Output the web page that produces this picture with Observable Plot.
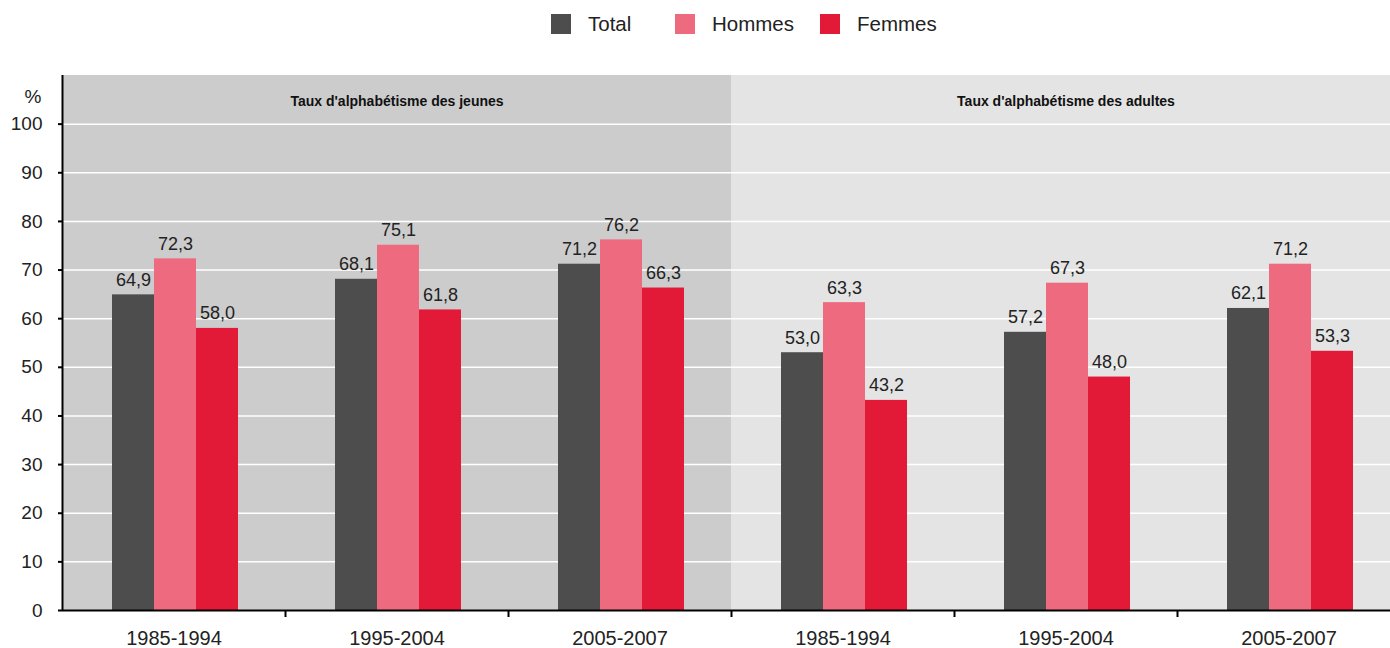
<!DOCTYPE html>
<html>
<head>
<meta charset="utf-8">
<script src="https://cdn.jsdelivr.net/npm/d3@7"></script>
<script src="https://cdn.jsdelivr.net/npm/@observablehq/plot@0.6"></script>
<style>
  html, body { margin: 0; padding: 0; background: #fff; width: 1390px; height: 648px; overflow: hidden; }
  body { font-family: "Liberation Sans", Arial, sans-serif; color: #222; }
  #legend { height: 50px; display: flex; align-items: center; padding-left: 551px; box-sizing: border-box; padding-bottom: 2px; }
  .item { display: flex; align-items: center; font-size: 20.5px; color: #222; }
  .sw { width: 20px; height: 20px; margin-right: 17px; }
  #chart { width: 1400px; }
  #chart svg { display: block; max-width: none !important; width: 1400px; }
</style>
</head>
<body>
<div id="legend"></div>
<div id="chart"></div>
<script>
// ---- data ----
const groups = ["jeunes", "adultes"];
const groupTitles = ["Taux d'alphabétisme des jeunes", "Taux d'alphabétisme des adultes"];
const periods = ["1985-1994", "1995-2004", "2005-2007"];
const seriesNames = ["Total", "Hommes", "Femmes"];
const totalValues  = [64.9, 68.1, 71.2, 53.0, 57.2, 62.1];
const hommesValues = [72.3, 75.1, 76.2, 63.3, 67.3, 71.2];
const femmesValues = [58.0, 61.8, 66.3, 43.2, 48.0, 53.3];
const yTicks = [0, 10, 20, 30, 40, 50, 60, 70, 80, 90, 100];
const yMax = 110;

// ---- styles ----
const seriesColors = ["#4d4d4d", "#ee6a7e", "#e31a37"];
const panelColors = ["#cccccc", "#e4e4e4"];

const keys = groups.flatMap(g => periods.map(p => g + "|" + p));
const rows = keys.map((k, i) => ({
  key: k, group: k.split("|")[0],
  Total: totalValues[i], Hommes: hommesValues[i], Femmes: femmesValues[i]
}));
const panels = keys.map(k => ({key: k, group: k.split("|")[0], y1: 0, y2: yMax}));
const titles = groups.map((g, i) => ({key: g + "|" + periods[1], title: groupTitles[i]}));

const fmt = v => d3.format(".1f")(v).replace(".", ",");

// legend
const legend = document.getElementById("legend");
const itemWidths = [124, 145, null];
seriesNames.forEach((s, i) => {
  const it = document.createElement("div");
  it.className = "item";
  if (itemWidths[i]) it.style.width = itemWidths[i] + "px";
  const sw = document.createElement("div");
  sw.className = "sw"; sw.style.background = seriesColors[i];
  const t = document.createElement("span"); t.textContent = s;
  it.appendChild(sw); it.appendChild(t);
  legend.appendChild(it);
});

const W = 1400, mL = 62, mR = 0;
const bw = (W - mL - mR) / keys.length;
const barW = 42, off = 50;

const barMarks = seriesNames.map((s, j) => Plot.barY(rows, {
  x: "key", y: s, fill: seriesColors[j],
  insetLeft: off + barW * j, insetRight: bw - off - barW * (j + 1)
}));
const labelMarks = seriesNames.map((s, j) => Plot.text(rows, {
  x: "key", y: s, text: d => fmt(d[s]),
  dx: off + barW * j + barW / 2 - bw / 2, dy: -9, lineAnchor: "bottom",
  fontSize: 18, fill: "#222"
}));

const chart = Plot.plot({
  width: W, height: 598,
  marginTop: 25, marginBottom: 38, marginLeft: mL, marginRight: mR,
  style: {fontFamily: "'Liberation Sans', Arial, sans-serif", color: "#222", background: "transparent", maxWidth: "none"},
  x: {domain: keys, padding: 0, axis: null},
  y: {domain: [0, yMax], axis: null},
  marks: [
    Plot.barY(panels, {x: "key", y1: "y1", y2: "y2", fill: d => panelColors[groups.indexOf(d.group)], shapeRendering: "crispEdges"}),
    Plot.gridY(yTicks.filter(t => t > 0), {stroke: "#ffffff", strokeOpacity: 1, strokeWidth: 1.5}),
    ...barMarks,
    ...labelMarks,
    Plot.text(titles, {x: "key", text: "title", frameAnchor: "top", dy: 21, fontWeight: "bold", fontSize: 14, fill: "#111"}),
    Plot.axisY({ticks: yTicks, tickSize: 4, tickPadding: 16, fontSize: 19, strokeWidth: 2, stroke: "#000", color: "#222", label: null}),
    Plot.text(["%"], {frameAnchor: "top-left", textAnchor: "end", dx: -21, dy: 14, fontSize: 19, fill: "#222"}),
    Plot.axisX({ticks: keys, tickSize: 0, tickPadding: 20, fontSize: 20, tickFormat: k => k.split("|")[1], label: null, color: "#222"}),
    Plot.axisX({ticks: keys.slice(0, -1), tickSize: 7, strokeWidth: 2, stroke: "#000", dx: bw / 2, tickFormat: () => "", label: null}),
    Plot.ruleX([keys[0]], {dx: -bw / 2, stroke: "#000", strokeWidth: 2}),
    Plot.ruleY([0], {stroke: "#000", strokeWidth: 2})
  ]
});
document.getElementById("chart").appendChild(chart);
</script>
</body>
</html>
